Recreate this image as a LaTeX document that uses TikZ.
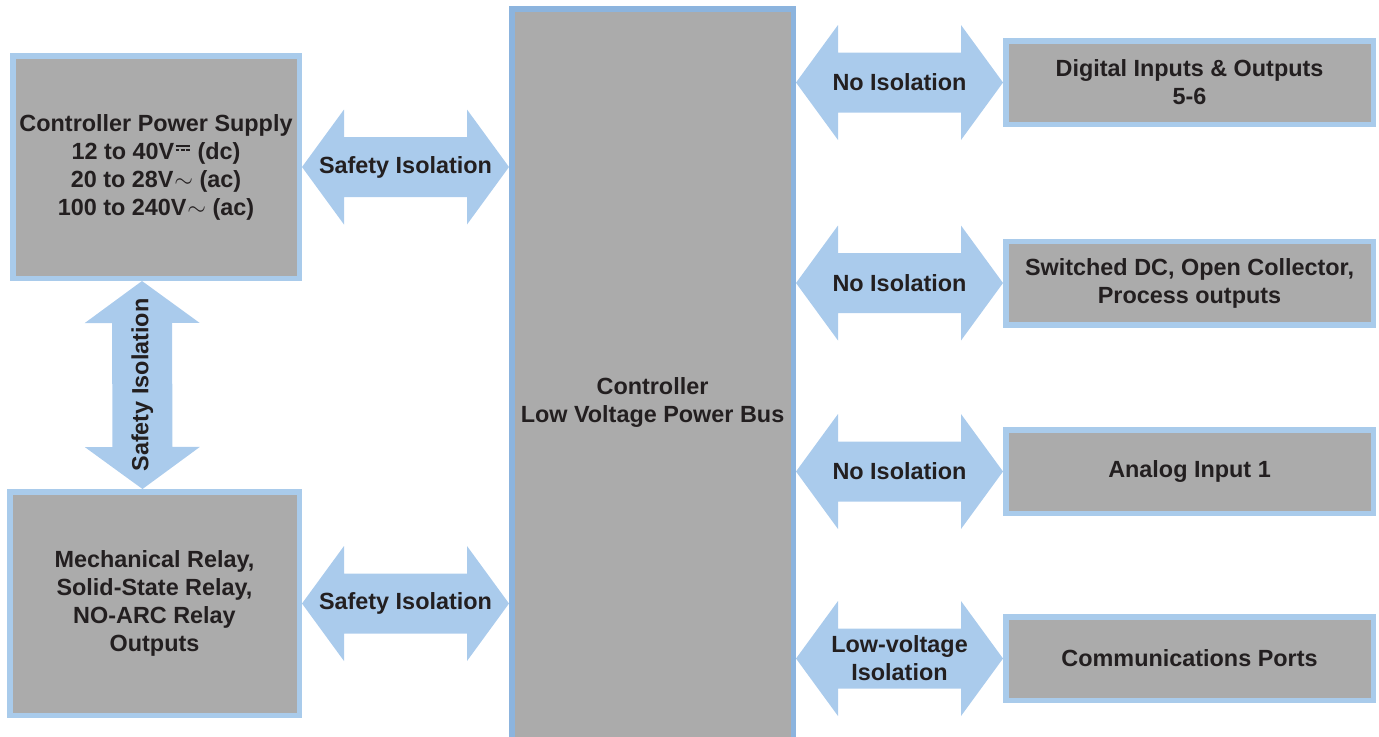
\documentclass[tikz,border=0pt]{standalone}
\usepackage{fontspec}
\setmainfont{Liberation Sans}
\usetikzlibrary{calc}

\definecolor{boxgray}{RGB}{171,171,171}
\definecolor{rimblue}{RGB}{169,203,235}
\definecolor{busblue}{RGB}{140,180,222}
\definecolor{arrowblue}{RGB}{170,203,236}
\definecolor{inkdark}{RGB}{35,31,32}

% direct current sign: solid bar over three dashes
\newcommand{\dcsign}{\kern0.06em\rlap{\raisebox{0.52em}{\rule{0.6em}{0.08em}}}\raisebox{0.34em}{\rule{0.16em}{0.07em}\kern0.06em\rule{0.16em}{0.07em}\kern0.06em\rule{0.16em}{0.07em}}\kern0.06em}
\newcommand{\acsign}{\kern0.04em$\sim$}

\begin{document}
\begin{tikzpicture}[x=0.5pt, y=-0.5pt,
  every node/.style={text=inkdark, font=\bfseries\fontsize{11.7}{14}\selectfont, align=center},
  block/.style={draw=rimblue, fill=boxgray, line width=2.75pt, inner sep=0pt},
  busbox/.style={block, draw=busblue},
  outbox/.style={block, minimum width=183.75pt, minimum height=41.75pt},
  isolabel/.style={inner sep=0pt},
  isoarrow/.style={fill=arrowblue, to path={
    ($(\tikztostart)!21pt!(\tikztotarget)$) coordinate (ha)
    ($(\tikztotarget)!21pt!(\tikztostart)$) coordinate (hb)
    (\tikztostart) -- ($(ha)!28.75pt!90:(\tikztotarget)$) -- ($(ha)!15pt!90:(\tikztotarget)$)
    -- ($(hb)!15pt!-90:(\tikztostart)$) -- ($(hb)!28.75pt!-90:(\tikztostart)$)
    -- (\tikztotarget) -- ($(hb)!28.75pt!90:(\tikztostart)$) -- ($(hb)!15pt!90:(\tikztostart)$)
    -- ($(ha)!15pt!-90:(\tikztotarget)$) -- ($(ha)!28.75pt!-90:(\tikztotarget)$) -- cycle}}]
\useasboundingbox (0,0) rectangle (1379,736);

% blocks
\node[block, minimum width=143.25pt, minimum height=111.25pt] (psu) at (156,167) {Controller Power Supply\\12 to 40V\dcsign{} (dc)\\20 to 28V\acsign{} (ac)\\100 to 240V\acsign{} (ac)};
\node[block, minimum width=144.75pt, minimum height=111.75pt] (relay) at (154.5,603.5) {Mechanical Relay,\\Solid-State Relay,\\NO-ARC Relay\\Outputs};
\node[busbox, minimum width=140.75pt, minimum height=393.25pt] (bus) at (652.5,402) {Controller\\Low Voltage Power Bus};
\foreach \nm/\yy/\txt in {dio/82.5/{Digital Inputs \& Outputs\\5-6}, sdc/283/{Switched DC, Open Collector,\\Process outputs}, ain/471.5/{Analog Input 1}, com/658.5/{Communications Ports}} {
  \node[outbox] (\nm) at (1189.5,\yy) {\txt};
}

% isolation arrows
\path[isoarrow] (psu.east) to (psu.east -| bus.west);
\node[isolabel] (safe1) at ($(psu.east)!0.5!(psu.east -| bus.west)$) {Safety Isolation};
\path[isoarrow] (relay.east) to (relay.east -| bus.west);
\node[isolabel] (safe2) at ($(relay.east)!0.5!(relay.east -| bus.west)$) {Safety Isolation};
\coordinate (vtop) at ([xshift=-7pt]psu.south);
\coordinate (vbot) at ([xshift=-6pt]relay.north);
\path[isoarrow] (vtop) to (vbot);
\node[isolabel, rotate=90] (safe3) at ($(vtop)!0.5!(vbot)$) {Safety Isolation};
\foreach \nm/\lab in {dio/No Isolation, sdc/No Isolation, ain/No Isolation, com/{Low-voltage\\Isolation}} {
  \path[isoarrow] (bus.east |- \nm.west) to (\nm.west);
  \node[isolabel] (lab-\nm) at ($(bus.east |- \nm.west)!0.5!(\nm.west)$) {\lab};
}
\end{tikzpicture}
\end{document}
